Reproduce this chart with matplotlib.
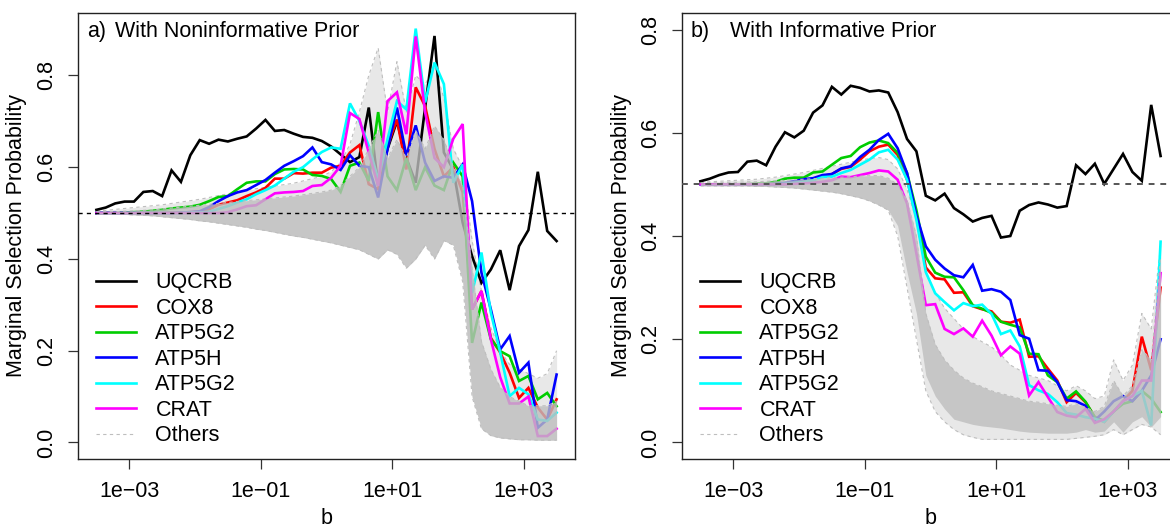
import numpy as np
import matplotlib
matplotlib.use("Agg")
import matplotlib.pyplot as plt

plt.rcParams['font.family'] = ['Liberation Sans', 'DejaVu Sans']

# ---------------- data ----------------
b_grid = np.logspace(-3.5, 3.5, 50)

gene_names = ["UQCRB", "COX8", "ATP5G2", "ATP5H", "ATP5G2", "CRAT"]
gene_colors = ["#000000", "#FF0000", "#00CD00", "#0000FF", "#00FFFF", "#FF00FF"]

# panel a) noninformative prior
a_UQCRB = [0.507, 0.512, 0.521, 0.525, 0.525, 0.546, 0.548, 0.537, 0.593, 0.568,
           0.626, 0.659, 0.651, 0.660, 0.656, 0.662, 0.667, 0.684, 0.703, 0.679,
           0.681, 0.673, 0.666, 0.664, 0.657, 0.645, 0.628, 0.611, 0.622, 0.730,
           0.559, 0.640, 0.700, 0.620, 0.566, 0.730, 0.886, 0.632, 0.595, 0.479,
           0.406, 0.348, 0.377, 0.419, 0.332, 0.428, 0.463, 0.590, 0.461, 0.439]
a_COX8 = [0.500, 0.500, 0.500, 0.500, 0.500, 0.500, 0.500, 0.500, 0.501, 0.501,
          0.502, 0.503, 0.508, 0.518, 0.523, 0.528, 0.537, 0.545, 0.555, 0.575,
          0.575, 0.587, 0.586, 0.588, 0.588, 0.599, 0.603, 0.632, 0.648, 0.563,
          0.552, 0.646, 0.704, 0.595, 0.774, 0.733, 0.640, 0.580, 0.600, 0.545,
          0.290, 0.330, 0.228, 0.196, 0.152, 0.097, 0.119, 0.076, 0.050, 0.094]
a_ATP5G2 = [0.500, 0.500, 0.500, 0.501, 0.502, 0.503, 0.505, 0.507, 0.510, 0.512,
            0.514, 0.518, 0.526, 0.535, 0.537, 0.552, 0.566, 0.569, 0.569, 0.585,
            0.595, 0.596, 0.595, 0.583, 0.581, 0.574, 0.546, 0.603, 0.610, 0.570,
            0.720, 0.580, 0.550, 0.620, 0.550, 0.600, 0.560, 0.550, 0.610, 0.580,
            0.217, 0.305, 0.225, 0.199, 0.188, 0.134, 0.145, 0.094, 0.108, 0.079]
a_ATP5H = [0.500, 0.500, 0.500, 0.500, 0.500, 0.500, 0.500, 0.500, 0.500, 0.501,
           0.502, 0.504, 0.513, 0.526, 0.537, 0.545, 0.550, 0.561, 0.572, 0.588,
           0.603, 0.613, 0.624, 0.643, 0.611, 0.606, 0.594, 0.626, 0.603, 0.600,
           0.534, 0.640, 0.730, 0.625, 0.691, 0.610, 0.570, 0.580, 0.577, 0.606,
           0.526, 0.370, 0.290, 0.203, 0.232, 0.152, 0.174, 0.032, 0.050, 0.148]
a_ATP5G2b = [0.500, 0.500, 0.500, 0.500, 0.500, 0.500, 0.500, 0.500, 0.500, 0.500,
             0.501, 0.501, 0.503, 0.509, 0.515, 0.523, 0.530, 0.541, 0.550, 0.560,
             0.575, 0.590, 0.600, 0.617, 0.633, 0.643, 0.640, 0.739, 0.701, 0.646,
             0.574, 0.661, 0.744, 0.726, 0.902, 0.741, 0.828, 0.781, 0.566, 0.606,
             0.326, 0.414, 0.283, 0.196, 0.101, 0.119, 0.105, 0.050, 0.047, 0.065]
a_CRAT = [0.500, 0.500, 0.500, 0.500, 0.500, 0.500, 0.500, 0.500, 0.500, 0.500,
          0.500, 0.500, 0.500, 0.500, 0.502, 0.508, 0.515, 0.517, 0.530, 0.543,
          0.545, 0.546, 0.548, 0.559, 0.561, 0.577, 0.603, 0.718, 0.705, 0.632,
          0.559, 0.744, 0.763, 0.672, 0.885, 0.720, 0.620, 0.600, 0.662, 0.694,
          0.290, 0.330, 0.225, 0.142, 0.085, 0.085, 0.100, 0.014, 0.014, 0.030]
# "Others": envelopes of the grey bundle
a_core_lo = [0.497, 0.497, 0.497, 0.497, 0.496, 0.495, 0.494, 0.492, 0.490, 0.488,
             0.486, 0.483, 0.481, 0.478, 0.475, 0.472, 0.469, 0.465, 0.462, 0.458,
             0.454, 0.450, 0.447, 0.443, 0.439, 0.435, 0.430, 0.425, 0.420, 0.410,
             0.400, 0.420, 0.410, 0.380, 0.400, 0.430, 0.400, 0.440, 0.430, 0.350,
             0.100, 0.030, 0.015, 0.010, 0.008, 0.006, 0.006, 0.005, 0.005, 0.005]
a_core_hi = [0.503, 0.503, 0.503, 0.504, 0.505, 0.506, 0.507, 0.509, 0.511, 0.513,
             0.515, 0.517, 0.519, 0.521, 0.523, 0.525, 0.527, 0.529, 0.531, 0.533,
             0.535, 0.537, 0.540, 0.543, 0.546, 0.550, 0.560, 0.580, 0.600, 0.640,
             0.680, 0.620, 0.660, 0.620, 0.680, 0.640, 0.690, 0.660, 0.600, 0.560,
             0.380, 0.220, 0.160, 0.120, 0.100, 0.090, 0.080, 0.080, 0.080, 0.090]
a_outer_hi = [0.505, 0.506, 0.508, 0.510, 0.512, 0.514, 0.516, 0.518, 0.521, 0.524,
              0.527, 0.530, 0.534, 0.538, 0.542, 0.546, 0.550, 0.553, 0.556, 0.559,
              0.562, 0.565, 0.570, 0.575, 0.580, 0.590, 0.610, 0.650, 0.720, 0.800,
              0.860, 0.720, 0.830, 0.720, 0.800, 0.780, 0.820, 0.750, 0.640, 0.600,
              0.440, 0.330, 0.250, 0.200, 0.170, 0.160, 0.150, 0.140, 0.150, 0.200]

# panel b) informative prior
b_UQCRB = [0.506, 0.511, 0.518, 0.523, 0.524, 0.544, 0.546, 0.537, 0.573, 0.601,
           0.591, 0.604, 0.639, 0.653, 0.689, 0.674, 0.691, 0.687, 0.680, 0.682,
           0.678, 0.640, 0.588, 0.564, 0.478, 0.469, 0.482, 0.454, 0.442, 0.428,
           0.435, 0.439, 0.397, 0.400, 0.449, 0.460, 0.465, 0.461, 0.455, 0.458,
           0.537, 0.520, 0.540, 0.501, 0.530, 0.559, 0.524, 0.507, 0.654, 0.555]
b_COX8 = [0.500, 0.500, 0.500, 0.500, 0.500, 0.500, 0.500, 0.500, 0.501, 0.502,
          0.503, 0.505, 0.510, 0.516, 0.520, 0.530, 0.534, 0.548, 0.564, 0.573,
          0.577, 0.557, 0.509, 0.438, 0.339, 0.318, 0.316, 0.290, 0.291, 0.264,
          0.258, 0.254, 0.234, 0.232, 0.238, 0.166, 0.167, 0.143, 0.120, 0.078,
          0.096, 0.078, 0.049, 0.040, 0.060, 0.080, 0.100, 0.205, 0.140, 0.300]
b_ATP5G2 = [0.500, 0.500, 0.500, 0.500, 0.500, 0.500, 0.501, 0.502, 0.505, 0.511,
            0.513, 0.513, 0.523, 0.525, 0.538, 0.551, 0.555, 0.572, 0.581, 0.585,
            0.580, 0.561, 0.522, 0.450, 0.360, 0.329, 0.321, 0.320, 0.295, 0.266,
            0.259, 0.251, 0.234, 0.228, 0.223, 0.172, 0.171, 0.130, 0.117, 0.085,
            0.099, 0.079, 0.049, 0.042, 0.060, 0.075, 0.080, 0.100, 0.085, 0.059]
b_ATP5H = [0.500, 0.500, 0.500, 0.500, 0.500, 0.500, 0.500, 0.500, 0.501, 0.503,
           0.506, 0.510, 0.512, 0.518, 0.520, 0.531, 0.535, 0.553, 0.567, 0.586,
           0.598, 0.570, 0.522, 0.440, 0.380, 0.354, 0.337, 0.324, 0.320, 0.344,
           0.294, 0.297, 0.292, 0.276, 0.208, 0.201, 0.140, 0.139, 0.117, 0.082,
           0.080, 0.071, 0.043, 0.060, 0.080, 0.090, 0.080, 0.100, 0.130, 0.200]
b_ATP5G2b = [0.500, 0.500, 0.500, 0.500, 0.500, 0.500, 0.500, 0.500, 0.500, 0.501,
             0.503, 0.505, 0.508, 0.514, 0.515, 0.522, 0.528, 0.538, 0.548, 0.562,
             0.567, 0.548, 0.509, 0.431, 0.330, 0.289, 0.272, 0.256, 0.270, 0.264,
             0.267, 0.249, 0.210, 0.217, 0.186, 0.111, 0.101, 0.094, 0.078, 0.057,
             0.054, 0.049, 0.046, 0.040, 0.060, 0.080, 0.090, 0.100, 0.033, 0.389]
b_CRAT = [0.500, 0.500, 0.500, 0.500, 0.500, 0.500, 0.500, 0.500, 0.500, 0.500,
          0.501, 0.502, 0.503, 0.505, 0.508, 0.515, 0.514, 0.518, 0.522, 0.527,
          0.525, 0.509, 0.463, 0.366, 0.266, 0.268, 0.220, 0.210, 0.221, 0.205,
          0.236, 0.207, 0.169, 0.186, 0.172, 0.091, 0.117, 0.088, 0.059, 0.052,
          0.049, 0.065, 0.038, 0.045, 0.060, 0.080, 0.090, 0.120, 0.120, 0.328]
b_core_lo = [0.497, 0.497, 0.497, 0.497, 0.497, 0.497, 0.496, 0.496, 0.495, 0.494,
             0.493, 0.491, 0.489, 0.487, 0.485, 0.482, 0.478, 0.474, 0.468, 0.460,
             0.450, 0.420, 0.330, 0.250, 0.130, 0.090, 0.065, 0.045, 0.040, 0.035,
             0.032, 0.030, 0.028, 0.025, 0.022, 0.020, 0.019, 0.018, 0.018, 0.018,
             0.020, 0.025, 0.020, 0.022, 0.040, 0.020, 0.040, 0.050, 0.030, 0.050]
b_core_hi = [0.503, 0.503, 0.503, 0.504, 0.504, 0.505, 0.505, 0.506, 0.507, 0.508,
             0.509, 0.510, 0.511, 0.512, 0.513, 0.514, 0.515, 0.516, 0.517, 0.517,
             0.512, 0.500, 0.470, 0.400, 0.250, 0.190, 0.160, 0.140, 0.125, 0.115,
             0.108, 0.100, 0.095, 0.090, 0.085, 0.080, 0.078, 0.075, 0.072, 0.070,
             0.075, 0.068, 0.060, 0.070, 0.120, 0.090, 0.110, 0.180, 0.160, 0.360]
b_outer_hi = [0.504, 0.505, 0.506, 0.507, 0.508, 0.509, 0.510, 0.512, 0.514, 0.517,
              0.520, 0.523, 0.527, 0.531, 0.535, 0.539, 0.543, 0.547, 0.550, 0.552,
              0.548, 0.530, 0.490, 0.430, 0.330, 0.290, 0.260, 0.240, 0.220, 0.205,
              0.195, 0.185, 0.170, 0.150, 0.140, 0.130, 0.125, 0.120, 0.110, 0.100,
              0.110, 0.100, 0.085, 0.090, 0.160, 0.120, 0.150, 0.250, 0.220, 0.380]
b_outer_lo = [0.497, 0.497, 0.497, 0.497, 0.497, 0.497, 0.496, 0.496, 0.495, 0.494,
              0.493, 0.491, 0.489, 0.487, 0.485, 0.482, 0.478, 0.474, 0.468, 0.460,
              0.450, 0.400, 0.300, 0.200, 0.100, 0.060, 0.040, 0.025, 0.015, 0.010,
              0.006, 0.006, 0.006, 0.006, 0.006, 0.006, 0.006, 0.006, 0.006, 0.006,
              0.008, 0.010, 0.012, 0.015, 0.025, 0.015, 0.025, 0.035, 0.030, 0.015]

xtick_vals = [1e-3, 1e-1, 1e1, 1e3]
xtick_labels = ["1e\u221203", "1e\u221201", "1e+01", "1e+03"]
ytick_vals = [0.0, 0.2, 0.4, 0.6, 0.8]
ytick_labels = ["0.0", "0.2", "0.4", "0.6", "0.8"]

# ---------------- figure ----------------
W, H = 1170, 527
fig = plt.figure(figsize=(W / 100, H / 100), dpi=100)
FS = 15.5
GREY = "#BEBEBE"


def px_axes(x0, x1, y0, y1):
    return fig.add_axes([x0 / W, 1 - y1 / H, (x1 - x0) / W, (y1 - y0) / H])


def draw_panel(ax, genes, core_lo, core_hi, outer_lo, outer_hi, ylim, tag, title,
               ref_color, ref_lw):
    ax.set_xscale("log")
    ax.fill_between(b_grid, outer_lo, outer_hi, color=GREY, alpha=0.35, lw=0, zorder=1)
    ax.plot(b_grid, outer_hi, color=GREY, lw=0.8, ls=(0, (3, 3)), zorder=1)
    ax.plot(b_grid, outer_lo, color=GREY, lw=0.8, ls=(0, (3, 3)), zorder=1)
    handles = []
    for vals, name, col in zip(genes, gene_names, gene_colors):
        h, = ax.plot(b_grid, vals, color=col, lw=1.9, label=name, zorder=2,
                     solid_joinstyle="miter")
        handles.append(h)
    ax.fill_between(b_grid, core_lo, core_hi, color=GREY, alpha=0.8, lw=0, zorder=3)
    oth, = ax.plot(b_grid, core_hi, color=GREY, lw=0.8, ls=(0, (3, 3)), zorder=3,
                   label="Others")
    handles.append(oth)
    ax.axhline(0.5, color=ref_color, lw=ref_lw, ls=(0, (3, 3)), zorder=4)

    ax.set_xlim(10 ** -3.78, 10 ** 3.78)
    ax.set_ylim(*ylim)
    ax.set_xticks(xtick_vals)
    ax.set_xticklabels(xtick_labels, fontsize=FS)
    ax.minorticks_off()
    ax.set_yticks(ytick_vals)
    ax.set_yticklabels(ytick_labels, fontsize=FS, rotation=90, va="center")
    ax.tick_params(direction="out", length=7, width=0.9, color="#333333")
    ax.tick_params(axis="x", pad=9)
    ax.tick_params(axis="y", pad=8)
    for s in ax.spines.values():
        s.set_linewidth(1.0)
        s.set_color("#222222")

    ax.text(0.018, 0.946, tag, transform=ax.transAxes, fontsize=FS, va="baseline", ha="left")
    ax.text(title[1], 0.946, title[0], transform=ax.transAxes, fontsize=FS,
            va="baseline", ha="left")

    ax.legend(handles=handles, loc="upper left", bbox_to_anchor=(0.037, 0.419),
              frameon=False, fontsize=FS, handlelength=1.86, handletextpad=0.88,
              labelspacing=0.21, borderpad=0, borderaxespad=0)


axA = px_axes(78, 575, 13, 459)
draw_panel(axA, [a_UQCRB, a_COX8, a_ATP5G2, a_ATP5H, a_ATP5G2b, a_CRAT],
           a_core_lo, a_core_hi, a_core_lo, a_outer_hi, (-0.036, 0.936),
           "a)", ("With Noninformative Prior", 0.0745), "#000000", 1.0)

axB = px_axes(682, 1179, 13, 459)
draw_panel(axB, [b_UQCRB, b_COX8, b_ATP5G2, b_ATP5H, b_ATP5G2b, b_CRAT],
           b_core_lo, b_core_hi, b_outer_lo, b_outer_hi, (-0.032, 0.832),
           "b)", ("With Informative Prior", 0.0966), "#555555", 1.4)

fig.text(17 / W, 1 - 236 / H, "Marginal Selection Probability", rotation=90,
         ha="center", va="center", fontsize=FS)
fig.text(621 / W, 1 - 236 / H, "Marginal Selection Probability", rotation=90,
         ha="center", va="center", fontsize=FS)
fig.text(326.5 / W, 1 - 518 / H, "b", ha="center", va="center", fontsize=FS)
fig.text(930.5 / W, 1 - 518 / H, "b", ha="center", va="center", fontsize=FS)

fig.savefig("out.png", dpi=100)
